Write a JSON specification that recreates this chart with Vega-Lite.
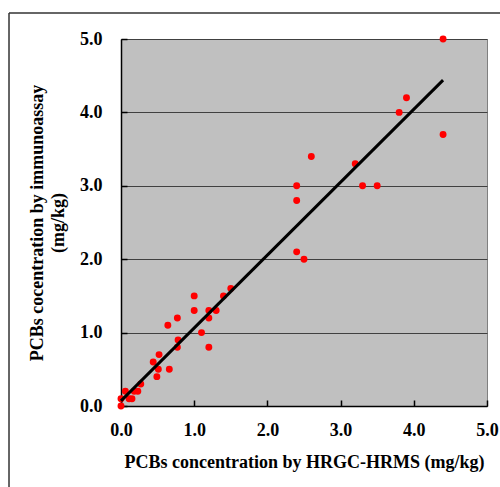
{
  "$schema": "https://vega.github.io/schema/vega-lite/v6.json",
  "width": 366,
  "height": 367,
  "autosize": {"type": "none"},
  "padding": {"left": 121, "top": 39, "right": 13, "bottom": 81},
  "background": "white",
  "config": {
    "view": {"fill": "#C0C0C0", "stroke": "#808080", "strokeWidth": 1},
    "font": "Liberation Serif"
  },
  "datasets": {
    "pts": [
      {"x": 4.4, "y": 5.0}, {"x": 3.9, "y": 4.2}, {"x": 3.8, "y": 4.0}, {"x": 4.4, "y": 3.7},
      {"x": 3.2, "y": 3.3}, {"x": 2.6, "y": 3.4}, {"x": 3.3, "y": 3.0}, {"x": 3.5, "y": 3.0},
      {"x": 2.4, "y": 3.0}, {"x": 2.4, "y": 2.8}, {"x": 2.4, "y": 2.1}, {"x": 2.5, "y": 2.0},
      {"x": 1.5, "y": 1.6}, {"x": 1.4, "y": 1.5}, {"x": 1.0, "y": 1.5}, {"x": 1.0, "y": 1.3},
      {"x": 1.2, "y": 1.3}, {"x": 1.3, "y": 1.3}, {"x": 1.2, "y": 1.2}, {"x": 0.77, "y": 1.2},
      {"x": 0.64, "y": 1.1}, {"x": 1.1, "y": 1.0}, {"x": 0.78, "y": 0.9}, {"x": 0.77, "y": 0.8},
      {"x": 1.2, "y": 0.8}, {"x": 0.52, "y": 0.7}, {"x": 0.44, "y": 0.6}, {"x": 0.51, "y": 0.5},
      {"x": 0.66, "y": 0.5}, {"x": 0.49, "y": 0.4}, {"x": 0.27, "y": 0.3}, {"x": 0.23, "y": 0.2},
      {"x": 0.06, "y": 0.2}, {"x": 0.18, "y": 0.2}, {"x": 0.0, "y": 0.1}, {"x": 0.11, "y": 0.1},
      {"x": 0.15, "y": 0.1}, {"x": 0.0, "y": 0.0}
    ],
    "fit": [{"x": 0.0, "y": 0.07}, {"x": 4.4, "y": 4.44}],
    "frameV": [{"x": -1.53, "y": -1.5, "y2": 5.354}],
    "frameH": [{"x": -1.53, "x2": 6.0, "y": 5.354}]
  },
  "layer": [
    {
      "data": {"name": "pts"},
      "mark": {"type": "circle", "color": "#FF0000", "opacity": 1, "size": 48},
      "encoding": {
        "x": {
          "field": "x", "type": "quantitative",
          "scale": {"domain": [0, 5], "nice": false, "zero": false},
          "axis": {
            "title": "PCBs concentration by HRGC-HRMS (mg/kg)",
            "values": [0, 1, 2, 3, 4, 5], "format": ".1f",
            "grid": false, "domainColor": "black", "domainWidth": 1.5,
            "tickColor": "black", "tickSize": -6, "tickWidth": 1.5,
            "labelFont": "Liberation Serif", "labelFontWeight": "bold", "labelFontSize": 18,
            "labelColor": "black", "labelPadding": 21,
            "titleFont": "Liberation Serif", "titleFontWeight": "bold", "titleFontSize": 18,
            "titleColor": "black", "titlePadding": 14, "labelFlush": false
          }
        },
        "y": {
          "field": "y", "type": "quantitative",
          "scale": {"domain": [0, 5], "nice": false, "zero": false},
          "axis": {
            "title": ["PCBs cocentration by immunoassay", "(mg/kg)"],
            "values": [0, 1, 2, 3, 4, 5], "format": ".1f",
            "grid": true, "gridColor": "#404040", "gridWidth": 1.2,
            "domainColor": "black", "domainWidth": 1.5,
            "tickColor": "black", "tickSize": -6, "tickWidth": 1.5,
            "labelFont": "Liberation Serif", "labelFontWeight": "bold", "labelFontSize": 18,
            "labelColor": "black", "labelPadding": 25, "labelFlush": false,
            "titleFont": "Liberation Serif", "titleFontWeight": "bold", "titleFontSize": 18,
            "titleColor": "black", "titlePadding": 12, "titleLineHeight": 21
          }
        }
      }
    },
    {
      "data": {"name": "fit"},
      "mark": {"type": "line", "color": "black", "strokeWidth": 3},
      "encoding": {
        "x": {"field": "x", "type": "quantitative"},
        "y": {"field": "y", "type": "quantitative"}
      }
    },
    {
      "data": {"name": "frameV"},
      "mark": {"type": "rule", "color": "#333333", "strokeWidth": 1.5, "clip": false},
      "encoding": {
        "x": {"field": "x", "type": "quantitative"},
        "y": {"field": "y", "type": "quantitative"},
        "y2": {"field": "y2"}
      }
    },
    {
      "data": {"name": "frameH"},
      "mark": {"type": "rule", "color": "#333333", "strokeWidth": 1.5, "clip": false},
      "encoding": {
        "x": {"field": "x", "type": "quantitative"},
        "x2": {"field": "x2"},
        "y": {"field": "y", "type": "quantitative"}
      }
    }
  ]
}
